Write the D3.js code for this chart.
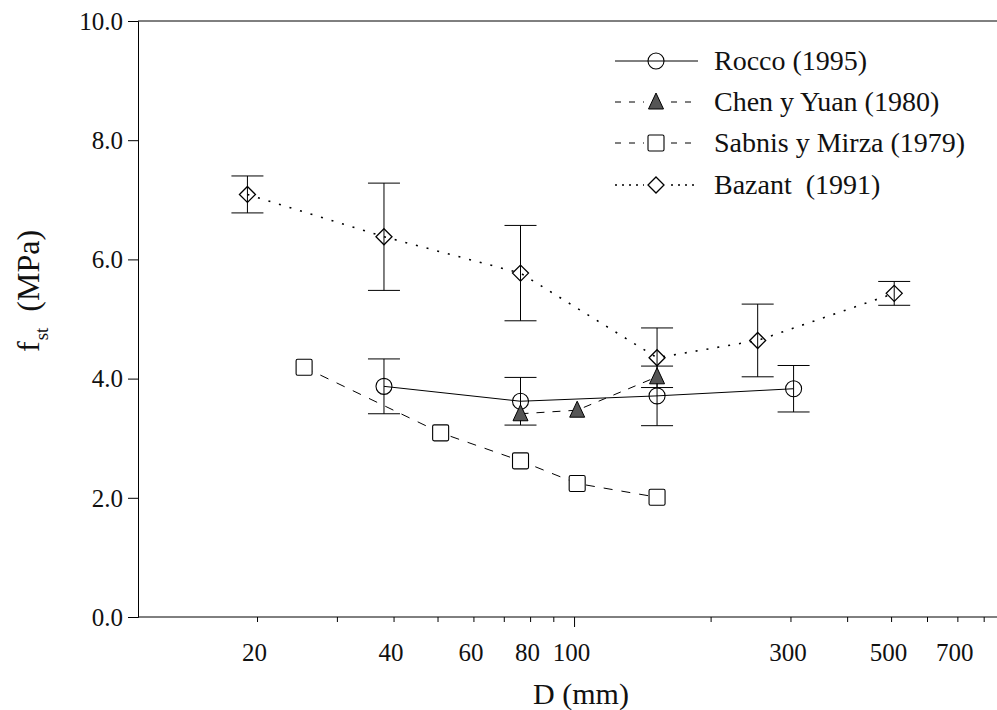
<!DOCTYPE html>
<html><head><meta charset="utf-8">
<script src="https://cdn.jsdelivr.net/npm/d3@7"></script>
<style>body{margin:0;background:#fff}svg{display:block}</style>
</head><body>
<svg id="c" width="997" height="710"></svg>
<script>
// ---- data ----
const xTickLabels = [20, 40, 60, 80, 100, 300, 500, 700];
const xMinorTicks = [20, 30, 40, 50, 60, 70, 80, 90, 200, 300, 400, 500, 600, 700, 800];
const xMajorTicks = [100];
const yTickValues = [0, 2, 4, 6, 8, 10];

const roccoD   = [38.1, 76.2, 152.4, 304.8];
const roccoF   = [3.87, 3.62, 3.71, 3.83];
const roccoErr = [0.46, 0.40, 0.50, 0.39];

const chenD = [76.2, 101.6, 152.4];
const chenF = [3.41, 3.47, 4.03];

const sabnisD = [25.4, 50.8, 76.2, 101.6, 152.4];
const sabnisF = [4.19, 3.09, 2.62, 2.24, 2.01];

const bazantD   = [19.05, 38.1, 76.2, 152.4, 254, 508];
const bazantF   = [7.09, 6.38, 5.77, 4.35, 4.64, 5.43];
const bazantErr = [0.31, 0.90, 0.80, 0.50, 0.61, 0.20];

const legendLabels = ["Rocco (1995)", "Chen y Yuan (1980)", "Sabnis y Mirza (1979)", "Bazant\u00a0\u00a0(1991)"];

// ---- drawing ----
const svg = d3.select("#c");
const FONT = "'Liberation Serif', 'Times New Roman', serif";
const x = d3.scaleLog().domain([10.93, 856]).range([138, 997]);
const y = d3.scaleLinear().domain([0, 10]).range([617, 21]);

// frame: left, top, bottom
svg.append("line").attr("x1", 138).attr("x2", 997).attr("y1", y(10)).attr("y2", y(10)).attr("stroke", "#000");
svg.append("line").attr("x1", 138).attr("x2", 997).attr("y1", y(0)).attr("y2", y(0)).attr("stroke", "#000");

const yAxis = d3.axisLeft(y).tickValues(yTickValues).tickSize(10).tickFormat(d3.format(".1f"));
const gy = svg.append("g").attr("transform", "translate(138,0)").call(yAxis);
gy.selectAll("text").attr("font-family", FONT).attr("font-size", 25).attr("fill", "#111").attr("x", -15).attr("dy", "0.33em");
gy.select(".domain").attr("stroke", "#000");

const gxMinor = svg.append("g").attr("transform", `translate(0,${y(0)})`)
  .call(d3.axisBottom(x).tickValues(xMinorTicks).tickSize(5).tickFormat(""));
gxMinor.select(".domain").remove();
const gxMajor = svg.append("g").attr("transform", `translate(0,${y(0)})`)
  .call(d3.axisBottom(x).tickValues(xMajorTicks).tickSize(10).tickFormat(""));
gxMajor.select(".domain").remove();
const gxLab = svg.append("g").attr("transform", `translate(0,${y(0)})`)
  .call(d3.axisBottom(x).tickValues(xTickLabels).tickSize(0).tickPadding(26).tickFormat(d3.format("d")));
gxLab.select(".domain").remove();
gxLab.selectAll("text").attr("font-family", FONT).attr("font-size", 25).attr("fill", "#111").attr("dx", -3);

// axis titles
svg.append("text").attr("x", 581).attr("y", 704).attr("text-anchor", "middle")
  .attr("font-family", FONT).attr("font-size", 30).attr("fill", "#111").text("D (mm)");
const yt = svg.append("text").attr("transform", "translate(39,352) rotate(-90)").attr("text-anchor", "start")
  .attr("font-family", FONT).attr("font-size", 32).attr("fill", "#111");
yt.append("tspan").text("f");
yt.append("tspan").attr("font-size", 19).attr("dy", 9).attr("dx", 1).text("st");
yt.append("tspan").attr("dy", -9).text("\u00a0\u00a0(MPa)");

// series
const series = [
  {D: roccoD, F: roccoF, err: roccoErr, dash: null, marker: "circle"},
  {D: chenD, F: chenF, err: null, dash: "8,8", marker: "triangle"},
  {D: sabnisD, F: sabnisF, err: null, dash: "9,9", marker: "square"},
  {D: bazantD, F: bazantF, err: bazantErr, dash: "2,9", marker: "diamond"}
];

const line = d3.line().x(d => x(d[0])).y(d => y(d[1]));
function drawMarker(g, type, cx, cy) {
  if (type === "circle") {
    g.append("circle").attr("cx", cx).attr("cy", cy).attr("r", 8).attr("fill", "none").attr("stroke", "#000").attr("stroke-width", 1.1);
  } else if (type === "triangle") {
    g.append("path").attr("d", `M${cx},${cy - 9}L${cx + 7.5},${cy + 7}L${cx - 7.5},${cy + 7}Z`)
      .attr("fill", "#555").attr("stroke", "#000").attr("stroke-width", 1);
  } else if (type === "square") {
    g.append("rect").attr("x", cx - 8).attr("y", cy - 8).attr("width", 16).attr("height", 16).attr("rx", 1.5)
      .attr("fill", "#fff").attr("stroke", "#000").attr("stroke-width", 1.1);
  } else if (type === "diamond") {
    g.append("path").attr("d", `M${cx},${cy - 8}L${cx + 8},${cy}L${cx},${cy + 8}L${cx - 8},${cy}Z`)
      .attr("fill", "none").attr("stroke", "#000").attr("stroke-width", 1.3);
  }
}

const gLines = svg.append("g"), gErr = svg.append("g"), gMarks = svg.append("g");
series.forEach(s => {
  const pts = s.D.map((d, i) => [d, s.F[i]]);
  gLines.append("path").attr("d", line(pts)).attr("fill", "none").attr("stroke", "#000")
    .attr("stroke-width", s.dash === "2,9" ? 1.6 : 1).attr("stroke-dasharray", s.dash);
  if (s.err) {
    pts.forEach((p, i) => {
      const cx = x(p[0]), e = s.err[i];
      gErr.append("line").attr("x1", cx).attr("x2", cx).attr("y1", y(p[1] + e)).attr("y2", y(p[1] - e)).attr("stroke", "#000");
      [p[1] + e, p[1] - e].forEach(v => gErr.append("line").attr("x1", cx - 16).attr("x2", cx + 16)
        .attr("y1", y(v)).attr("y2", y(v)).attr("stroke", "#000"));
    });
  }
  pts.forEach(p => drawMarker(gMarks, s.marker, x(p[0]), y(p[1])));
});

// legend
const legY = [61, 102, 143, 185];
series.forEach((s, i) => {
  const g = svg.append("g");
  g.append("line").attr("x1", 615).attr("x2", 698).attr("y1", legY[i]).attr("y2", legY[i])
    .attr("stroke", "#000").attr("stroke-width", s.dash === "2,9" ? 1.6 : 1).attr("stroke-dasharray", s.dash ? (s.dash === "2,9" ? "2,5" : "6,8") : null);
  if (s.marker !== "circle") {
    g.append("rect").attr("x", 644).attr("y", legY[i] - 10).attr("width", 24).attr("height", 20).attr("fill", "#fff");
  }
  drawMarker(g, s.marker, 656, legY[i]);
  g.append("text").attr("x", 714).attr("y", legY[i]).attr("dy", "0.33em")
    .attr("font-family", FONT).attr("font-size", 28).attr("fill", "#111").text(legendLabels[i]);
});
</script>
</body></html>
